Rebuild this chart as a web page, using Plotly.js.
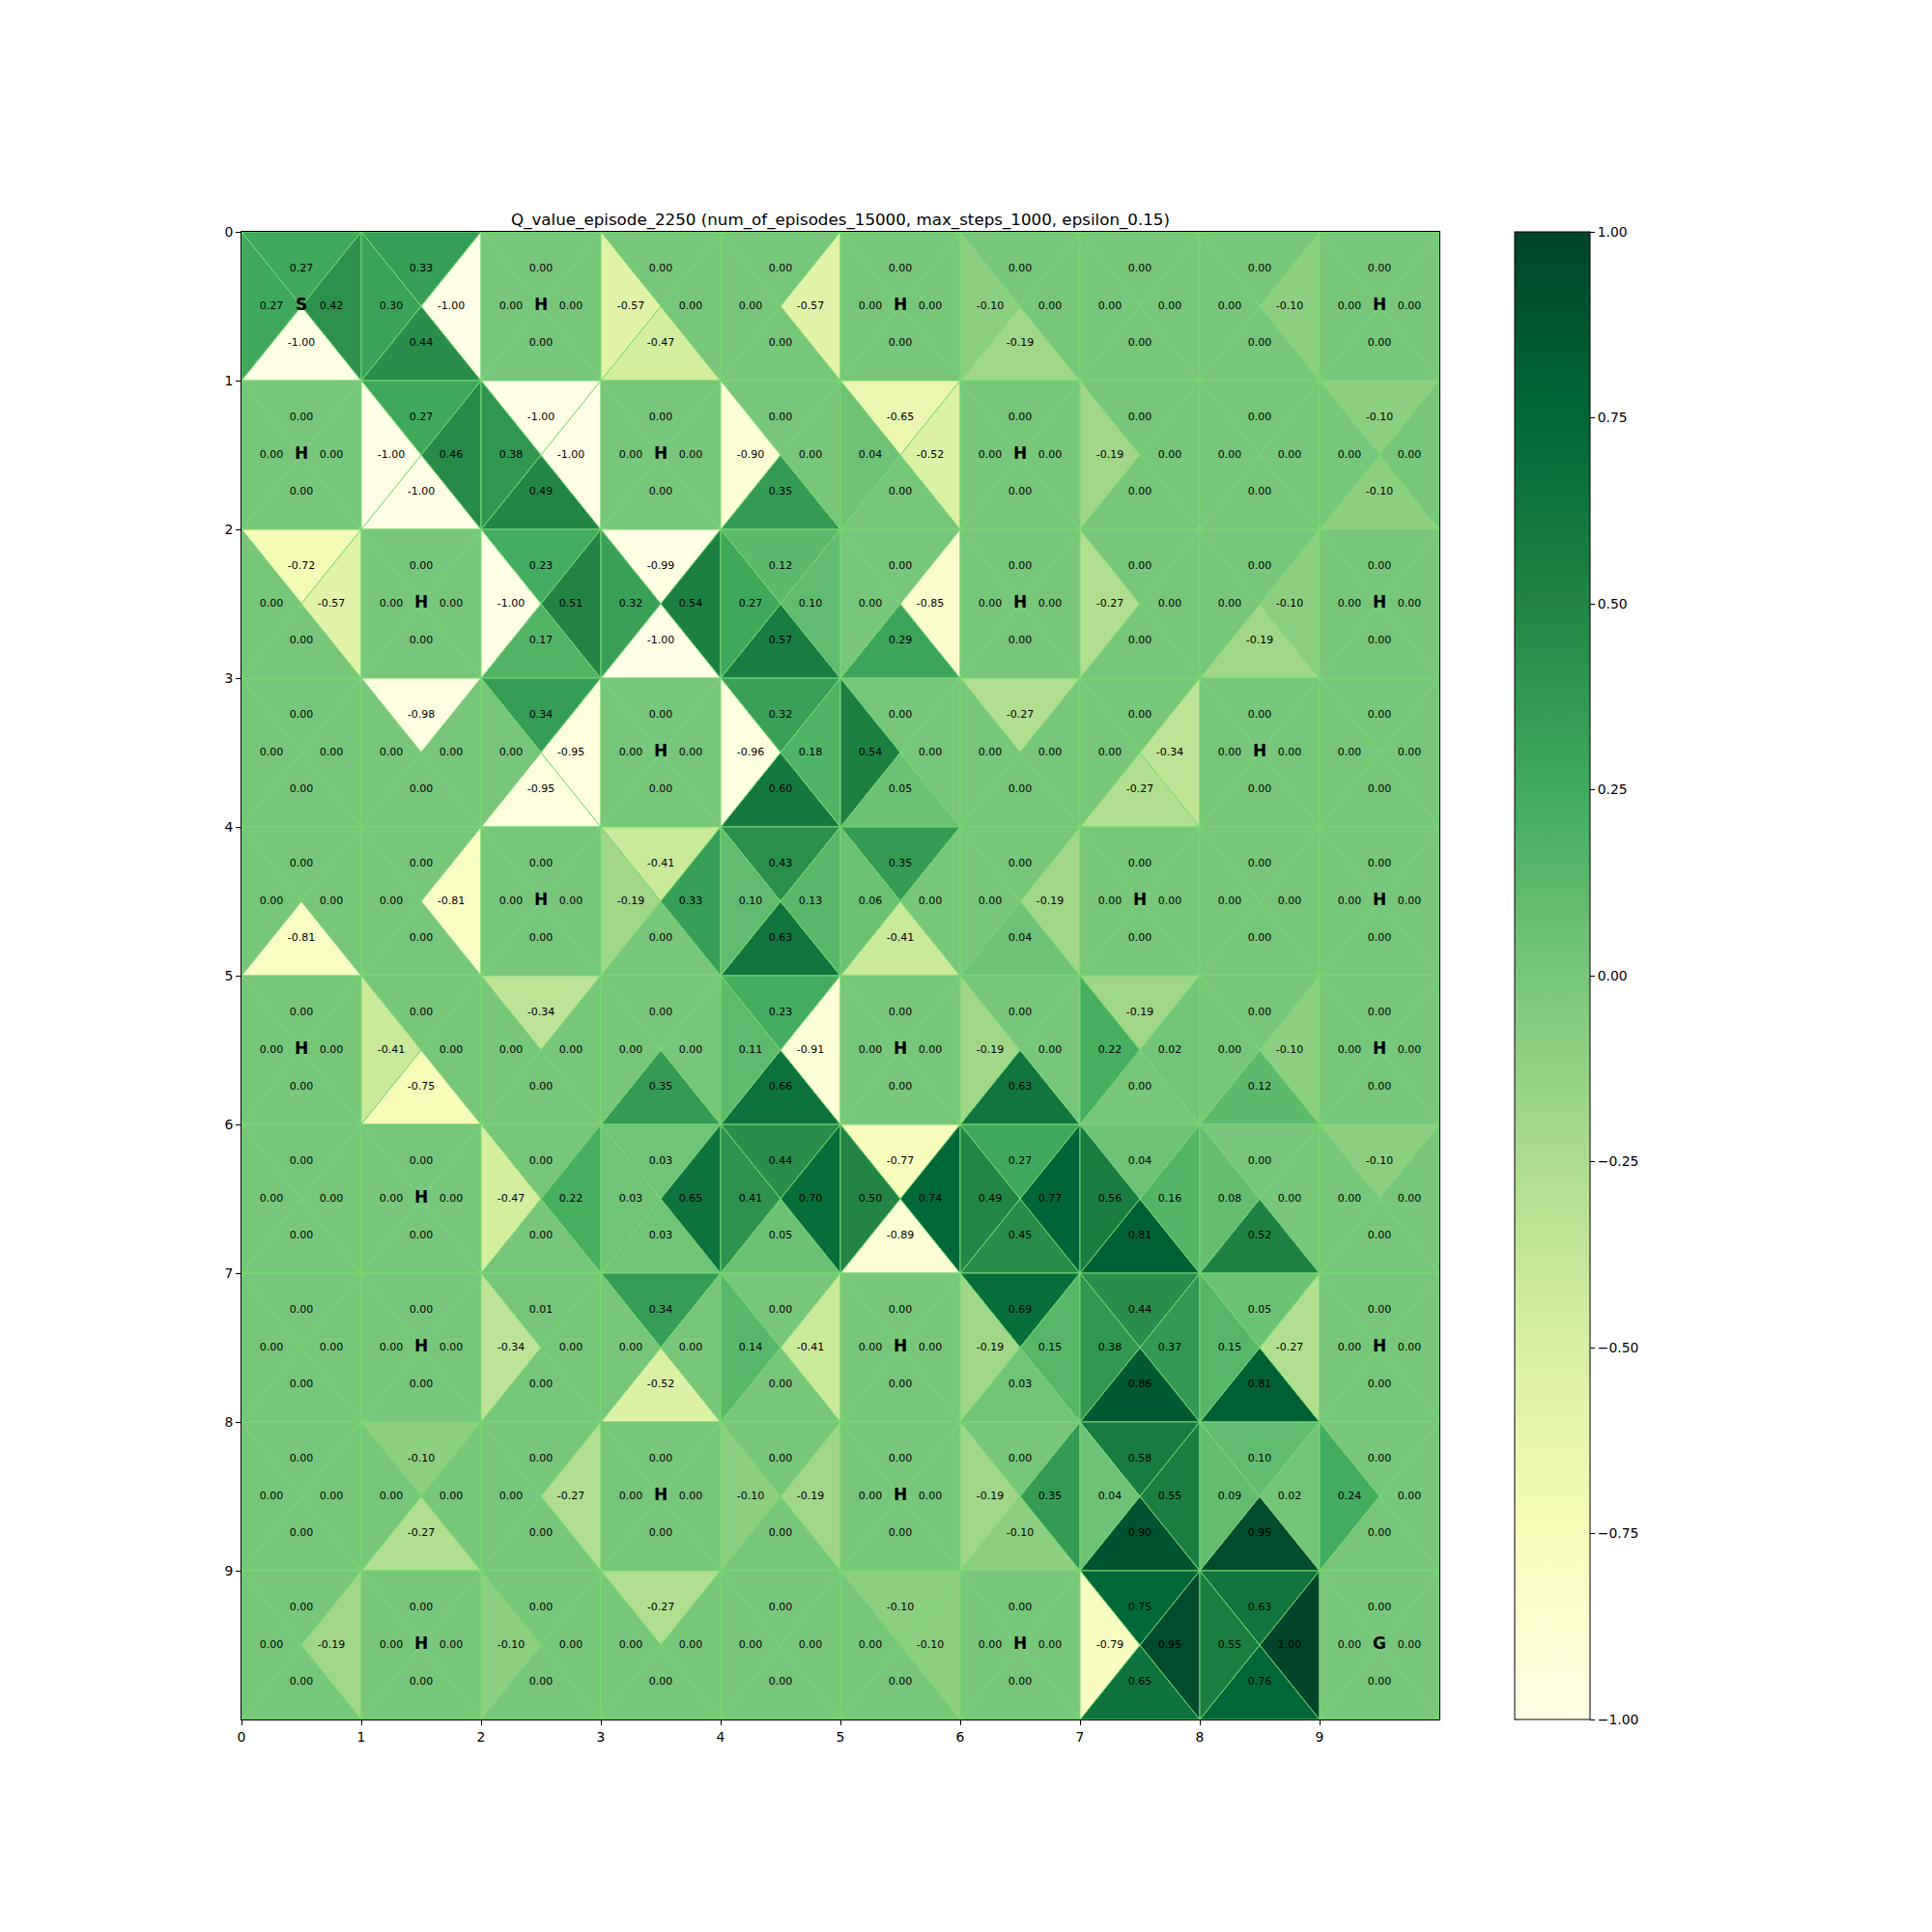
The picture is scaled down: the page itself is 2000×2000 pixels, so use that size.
<!DOCTYPE html>
<html><head><meta charset="utf-8">
<script src="https://cdn.plot.ly/plotly-3.0.1.min.js"></script>
<style>body{margin:0;background:#fff}</style>
</head><body><div id="chart" style="width:2000px;height:2000px"></div>
<script>
const titleText = "Q_value_episode_2250 (num_of_episodes_15000, max_steps_1000, epsilon_0.15)";
const tickLabels = ["0","1","2","3","4","5","6","7","8","9"];
const cbTicks = [-1, -0.75, -0.5, -0.25, 0, 0.25, 0.5, 0.75, 1];

const qTop = [
 [0.27, 0.33, 0, 0, 0, 0, 0, 0, 0, 0],
 [0, 0.27, -1.00, 0, 0, -0.65, 0, 0, 0, -0.10],
 [-0.72, 0, 0.23, -0.99, 0.12, 0, 0, 0, 0, 0],
 [0, -0.98, 0.34, 0, 0.32, 0, -0.27, 0, 0, 0],
 [0, 0, 0, -0.41, 0.43, 0.35, 0, 0, 0, 0],
 [0, 0, -0.34, 0, 0.23, 0, 0, -0.19, 0, 0],
 [0, 0, 0, 0.03, 0.44, -0.77, 0.27, 0.04, 0, -0.10],
 [0, 0, 0.01, 0.34, 0, 0, 0.69, 0.44, 0.05, 0],
 [0, -0.10, 0, 0, 0, 0, 0, 0.58, 0.10, 0],
 [0, 0, 0, -0.27, 0, -0.10, 0, 0.75, 0.63, 0]
];
const qLeft = [
 [0.27, 0.30, 0, -0.57, 0, 0, -0.10, 0, 0, 0],
 [0, -1.00, 0.38, 0, -0.90, 0.04, 0, -0.19, 0, 0],
 [0, 0, -1.00, 0.32, 0.27, 0, 0, -0.27, 0, 0],
 [0, 0, 0, 0, -0.96, 0.54, 0, 0, 0, 0],
 [0, 0, 0, -0.19, 0.10, 0.06, 0, 0, 0, 0],
 [0, -0.41, 0, 0, 0.11, 0, -0.19, 0.22, 0, 0],
 [0, 0, -0.47, 0.03, 0.41, 0.50, 0.49, 0.56, 0.08, 0],
 [0, 0, -0.34, 0, 0.14, 0, -0.19, 0.38, 0.15, 0],
 [0, 0, 0, 0, -0.10, 0, -0.19, 0.04, 0.09, 0.24],
 [0, 0, -0.10, 0, 0, 0, 0, -0.79, 0.55, 0]
];
const qRight = [
 [0.42, -1.00, 0, 0, -0.57, 0, 0, 0, -0.10, 0],
 [0, 0.46, -1.00, 0, 0, -0.52, 0, 0, 0, 0],
 [-0.57, 0, 0.51, 0.54, 0.10, -0.85, 0, 0, -0.10, 0],
 [0, 0, -0.95, 0, 0.18, 0, 0, -0.34, 0, 0],
 [0, -0.81, 0, 0.33, 0.13, 0, -0.19, 0, 0, 0],
 [0, 0, 0, 0, -0.91, 0, 0, 0.02, -0.10, 0],
 [0, 0, 0.22, 0.65, 0.70, 0.74, 0.77, 0.16, 0, 0],
 [0, 0, 0, 0, -0.41, 0, 0.15, 0.37, -0.27, 0],
 [0, 0, -0.27, 0, -0.19, 0, 0.35, 0.55, 0.02, 0],
 [-0.19, 0, 0, 0, 0, -0.10, 0, 0.95, 1.00, 0]
];
const qBottom = [
 [-1.00, 0.44, 0, -0.47, 0, 0, -0.19, 0, 0, 0],
 [0, -1.00, 0.49, 0, 0.35, 0, 0, 0, 0, -0.10],
 [0, 0, 0.17, -1.00, 0.57, 0.29, 0, 0, -0.19, 0],
 [0, 0, -0.95, 0, 0.60, 0.05, 0, -0.27, 0, 0],
 [-0.81, 0, 0, 0, 0.63, -0.41, 0.04, 0, 0, 0],
 [0, -0.75, 0, 0.35, 0.66, 0, 0.63, 0, 0.12, 0],
 [0, 0, 0, 0.03, 0.05, -0.89, 0.45, 0.81, 0.52, 0],
 [0, 0, 0, -0.52, 0, 0, 0.03, 0.86, 0.81, 0],
 [0, -0.27, 0, 0, 0, 0, -0.10, 0.90, 0.95, 0],
 [0, 0, 0, 0, 0, 0, 0, 0.65, 0.76, 0]
];
const cellLabels = [
 ["S","","H","","","H","","","","H"],
 ["H","","","H","","","H","","",""],
 ["","H","","","","","H","","","H"],
 ["","","","H","","","","","H",""],
 ["","","H","","","","","H","","H"],
 ["H","","","","","H","","","","H"],
 ["","H","","","","","","","",""],
 ["","H","","","","H","","","","H"],
 ["","","","H","","H","","","",""],
 ["","H","","","","","H","","","G"]
];

const ylgn = ["#ffffe5","#f7fcb9","#d9f0a3","#addd8e","#78c679","#41ab5d","#238443","#006837","#004529"];
const vmin = -1, vmax = 1;
function hex2rgb(h){return [parseInt(h.slice(1,3),16),parseInt(h.slice(3,5),16),parseInt(h.slice(5,7),16)];}
function colorOf(v){
  let t = (v - vmin) / (vmax - vmin);
  t = Math.max(0, Math.min(1, t));
  const n = ylgn.length - 1;
  let i = Math.min(n - 1, Math.floor(t * n));
  const f = t * n - i;
  const a = hex2rgb(ylgn[i]), b = hex2rgb(ylgn[i+1]);
  const c = a.map((x,k)=>Math.round(x + (b[k]-x)*f));
  return "rgb(" + c.join(",") + ")";
}
const colorscale = ylgn.map((c,i)=>[i/(ylgn.length-1), c]);
const edgeColor = "#78d874";

const traces = [];
const txtX = [], txtY = [], txtS = [];
const lblX = [], lblY = [], lblS = [];
const nR = qTop.length, nC = qTop[0].length;
for (let r = 0; r < nR; r++) {
  for (let c = 0; c < nC; c++) {
    const cx = c + 0.5, cy = r + 0.5;
    const tris = [
      {v: qTop[r][c],    xs: [c, c+1, cx, c],     ys: [r, r, cy, r],       tx: cx,      ty: r + 0.25},
      {v: qBottom[r][c], xs: [c, c+1, cx, c],     ys: [r+1, r+1, cy, r+1], tx: cx,      ty: r + 0.75},
      {v: qLeft[r][c],   xs: [c, c, cx, c],       ys: [r, r+1, cy, r],     tx: c + 0.25, ty: cy},
      {v: qRight[r][c],  xs: [c+1, c+1, cx, c+1], ys: [r, r+1, cy, r],     tx: c + 0.75, ty: cy}
    ];
    tris.forEach(t => {
      traces.push({
        type: "scatter", mode: "lines", x: t.xs, y: t.ys,
        fill: "toself", fillcolor: colorOf(t.v),
        line: {color: edgeColor, width: 1},
        hoverinfo: "skip", showlegend: false
      });
      txtX.push(t.tx); txtY.push(t.ty); txtS.push(t.v.toFixed(2));
    });
    if (cellLabels[r][c]) { lblX.push(cx); lblY.push(cy); lblS.push(cellLabels[r][c]); }
  }
}
traces.push({
  type: "scatter", mode: "text", x: txtX, y: txtY, text: txtS,
  textposition: "middle center",
  textfont: {family: "DejaVu Sans", size: 11, color: "#000"},
  hoverinfo: "skip", showlegend: false
});
traces.push({
  type: "scatter", mode: "text", x: lblX, y: lblY, text: lblS,
  textposition: "middle center",
  textfont: {family: "DejaVu Sans", size: 17, color: "#000", weight: "bold"},
  hoverinfo: "skip", showlegend: false
});
traces.push({
  type: "scatter", mode: "markers", x: [-5, -5], y: [-5, -5],
  marker: {
    color: [vmin, vmax], cmin: vmin, cmax: vmax, colorscale: colorscale,
    opacity: 0, size: 1, showscale: true,
    colorbar: {
      x: (1568 - 250) / 1240, xanchor: "left", xref: "paper",
      y: 0.5, yanchor: "middle", len: 1540, lenmode: "pixels",
      thickness: 78, thicknessmode: "pixels",
      xpad: 0, ypad: 0,
      outlinewidth: 1, outlinecolor: "#000",
      tickvals: cbTicks,
      ticktext: cbTicks.map(v => (v < 0 ? "\u2212" : "") + Math.abs(v).toFixed(2)),
      ticks: "outside", ticklen: 5, tickwidth: 1, tickcolor: "#000",
      tickfont: {family: "DejaVu Sans", size: 13.9, color: "#000"}
    }
  },
  hoverinfo: "skip", showlegend: false
});

const axisCommon = {
  tickvals: tickLabels.map((_, i) => i), ticktext: tickLabels,
  ticks: "outside", ticklen: 5, tickwidth: 1, tickcolor: "#000",
  showline: true, linecolor: "#000", linewidth: 1, mirror: true,
  showgrid: false, zeroline: false, fixedrange: true,
  tickfont: {family: "DejaVu Sans", size: 13.9, color: "#000"},
  layer: "above traces"
};
const layout = {
  width: 2000, height: 2000,
  margin: {l: 250, r: 510, t: 240, b: 220, pad: 0},
  paper_bgcolor: "#fff", plot_bgcolor: "#fff",
  showlegend: false, hovermode: false,
  title: {
    text: titleText, xref: "paper", x: 0.5, xanchor: "center",
    yref: "paper", y: 1, yanchor: "bottom", pad: {b: 7},
    font: {family: "DejaVu Sans", size: 16.7, color: "#000"}
  },
  xaxis: Object.assign({range: [0, 10]}, axisCommon),
  yaxis: Object.assign({range: [10, 0]}, axisCommon)
};
Plotly.newPlot("chart", traces, layout, {displayModeBar: false, staticPlot: true});
</script>
</body></html>
